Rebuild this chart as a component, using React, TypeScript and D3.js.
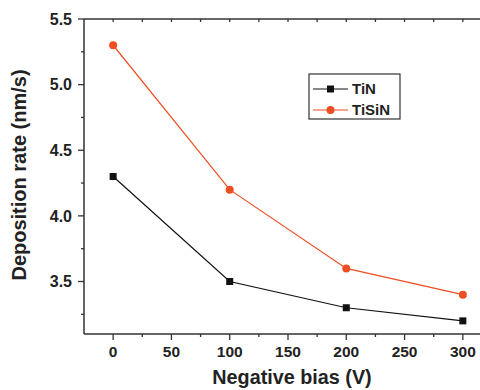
import React, { useEffect, useRef } from 'react';
import * as d3 from 'd3';

// Chart data
const biasValues = [0, 100, 200, 300];
const tinRates = [4.3, 3.5, 3.3, 3.2];
const tisinRates = [5.3, 4.2, 3.6, 3.4];
const xTicks = [0, 50, 100, 150, 200, 250, 300];
const yTicks = [3.5, 4.0, 4.5, 5.0, 5.5];
const seriesNames = ['TiN', 'TiSiN'];

const FONT = '"Liberation Sans", Arial, Helvetica, sans-serif';
const AXIS_COLOR = '#333';
const ORANGE = '#ef4e23';

const App: React.FC = () => {
  const svgRef = useRef<SVGSVGElement>(null);

  useEffect(() => {
    if (!svgRef.current) return;
    const svg = d3.select(svgRef.current);
    svg.selectAll('*').remove();

    const left = 84;
    const top = 19;
    const bottom = 334;
    const right = 492;

    const x = d3.scaleLinear().domain([-25, 325]).range([left, right]);
    const y = d3.scaleLinear().domain([3.1, 5.5]).range([bottom, top]);

    // frame lines
    const g = svg.append('g');
    g.append('line')
      .attr('x1', left).attr('x2', right).attr('y1', bottom).attr('y2', bottom)
      .attr('stroke', AXIS_COLOR).attr('stroke-width', 1.5);
    g.append('line')
      .attr('x1', left).attr('x2', right).attr('y1', top).attr('y2', top)
      .attr('stroke', AXIS_COLOR).attr('stroke-width', 1.5);
    g.append('line')
      .attr('x1', left).attr('x2', left).attr('y1', top).attr('y2', bottom)
      .attr('stroke', AXIS_COLOR).attr('stroke-width', 1.5);

    // x ticks (major + minor)
    const xMinor = d3.range(-25, 326, 25).filter(v => !xTicks.includes(v) && v > -25);
    xTicks.forEach(v => {
      g.append('line')
        .attr('x1', x(v)).attr('x2', x(v)).attr('y1', bottom).attr('y2', bottom + 6)
        .attr('stroke', AXIS_COLOR).attr('stroke-width', 1.3);
      g.append('line')
        .attr('x1', x(v)).attr('x2', x(v)).attr('y1', top).attr('y2', top + 3)
        .attr('stroke', AXIS_COLOR).attr('stroke-width', 1.3);
      g.append('text')
        .attr('x', x(v)).attr('y', 357)
        .attr('text-anchor', 'middle')
        .style('font-family', FONT).style('font-size', '15.5px').style('font-weight', 'bold')
        .style('fill', '#222')
        .text(v);
    });
    xMinor.forEach(v => {
      g.append('line')
        .attr('x1', x(v)).attr('x2', x(v)).attr('y1', bottom).attr('y2', bottom + 3)
        .attr('stroke', AXIS_COLOR).attr('stroke-width', 1.3);
      g.append('line')
        .attr('x1', x(v)).attr('x2', x(v)).attr('y1', top).attr('y2', top + 3)
        .attr('stroke', AXIS_COLOR).attr('stroke-width', 1.3);
    });

    // y ticks (major + minor)
    const yMinor = [3.25, 3.75, 4.25, 4.75, 5.25];
    yTicks.forEach(v => {
      g.append('line')
        .attr('x1', left - 6).attr('x2', left).attr('y1', y(v)).attr('y2', y(v))
        .attr('stroke', AXIS_COLOR).attr('stroke-width', 1.3);
      g.append('text')
        .attr('x', 72).attr('y', y(v)).attr('dy', '0.36em')
        .attr('text-anchor', 'end')
        .style('font-family', FONT).style('font-size', '16px').style('font-weight', 'bold')
        .style('fill', '#222')
        .text(v.toFixed(1));
    });
    yMinor.forEach(v => {
      g.append('line')
        .attr('x1', left - 3).attr('x2', left).attr('y1', y(v)).attr('y2', y(v))
        .attr('stroke', AXIS_COLOR).attr('stroke-width', 1.3);
    });

    // axis titles
    svg.append('text')
      .attr('x', 292).attr('y', 384)
      .attr('text-anchor', 'middle')
      .style('font-family', FONT).style('font-size', '19.8px').style('font-weight', 'bold')
      .style('fill', '#222')
      .text('Negative bias (V)');
    svg.append('text')
      .attr('transform', 'translate(26,175) rotate(-90)')
      .attr('text-anchor', 'middle')
      .style('font-family', FONT).style('font-size', '20px').style('font-weight', 'bold')
      .style('fill', '#222')
      .text('Deposition rate (nm/s)');

    // series
    const line = d3.line<number>()
      .x((d, i) => x(biasValues[i]))
      .y(d => y(d));

    svg.append('path')
      .datum(tinRates)
      .attr('d', line)
      .attr('fill', 'none').attr('stroke', '#111').attr('stroke-width', 1.2);
    svg.append('path')
      .datum(tisinRates)
      .attr('d', line)
      .attr('fill', 'none').attr('stroke', ORANGE).attr('stroke-width', 1.2);

    svg.selectAll('.tin')
      .data(tinRates)
      .enter()
      .append('rect')
      .attr('x', (d, i) => x(biasValues[i]) - 3.5)
      .attr('y', d => y(d) - 3.5)
      .attr('width', 7).attr('height', 7)
      .attr('fill', '#111');
    svg.selectAll('.tisin')
      .data(tisinRates)
      .enter()
      .append('circle')
      .attr('cx', (d, i) => x(biasValues[i]))
      .attr('cy', d => y(d))
      .attr('r', 4)
      .attr('fill', ORANGE);

    // legend
    const lg = svg.append('g');
    lg.append('rect')
      .attr('x', 309).attr('y', 74).attr('width', 91).attr('height', 45)
      .attr('fill', 'none').attr('stroke', AXIS_COLOR).attr('stroke-width', 1.2);
    seriesNames.forEach((name, i) => {
      const ry = 89 + i * 21;
      const color = i === 0 ? '#111' : ORANGE;
      lg.append('line')
        .attr('x1', 313).attr('x2', 348).attr('y1', ry).attr('y2', ry)
        .attr('stroke', color).attr('stroke-width', 1.2);
      if (i === 0) {
        lg.append('rect')
          .attr('x', 327).attr('y', ry - 3.5).attr('width', 7).attr('height', 7)
          .attr('fill', color);
      } else {
        lg.append('circle')
          .attr('cx', 330.5).attr('cy', ry).attr('r', 4)
          .attr('fill', color);
      }
      lg.append('text')
        .attr('x', 352).attr('y', ry).attr('dy', '0.36em')
        .style('font-family', FONT).style('font-size', '15px').style('font-weight', 'bold')
        .style('fill', '#222')
        .text(name);
    });
  }, []);

  return (
    <svg
      ref={svgRef}
      width={480}
      height={390}
      style={{ position: 'absolute', left: 0, top: 0, background: '#fff' }}
    />
  );
};

export default App;
